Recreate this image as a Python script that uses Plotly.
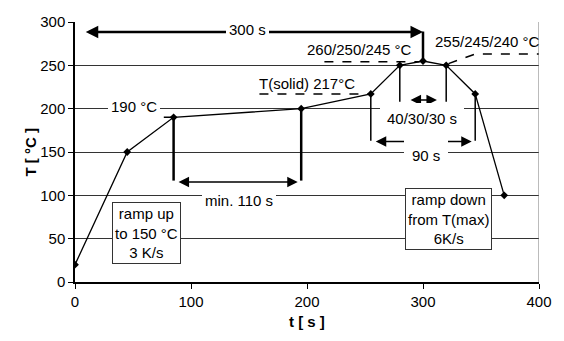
import plotly.graph_objects as go

# Reflow profile points (time in s, temperature in °C)
t_s = [0, 45, 85, 195, 255, 280, 300, 320, 345, 370]
temp_c = [20, 150, 190, 200, 217, 250, 255, 250, 217, 100]

x_ticks = [0, 100, 200, 300, 400]
y_ticks = [0, 50, 100, 150, 200, 250, 300]

FONT = "Liberation Sans, Arial, sans-serif"
FS = 15

fig = go.Figure()


def seg(xs, ys, width=1.5, dash=None):
    fig.add_trace(go.Scatter(x=xs, y=ys, mode="lines",
                             line=dict(color="black", width=width, dash=dash),
                             hoverinfo="skip", showlegend=False))


# helper lines
seg([85, 85], [190, 117], width=2.5)
seg([195, 195], [200, 117], width=2.5)
seg([300, 300], [289, 255], width=2.5)
seg([255, 255], [217, 163])
seg([345, 345], [217, 163])
seg([280, 280], [250, 208])
seg([320, 320], [250, 208])
# dashed reference lines
seg([30, 85], [190, 190], dash="dash")
seg([159, 255], [217, 217], dash="dash")
seg([215, 297], [254, 254], dash="dash")
seg([322, 345, 400], [252, 263, 263], dash="dash")

# profile
fig.add_trace(go.Scatter(x=t_s, y=temp_c, mode="lines+markers",
                         line=dict(color="black", width=1.3),
                         marker=dict(symbol="diamond", size=6, color="black"),
                         showlegend=False))


def arrow(x0, x1, y, width):
    fig.add_annotation(x=x1, y=y, ax=x0, ay=y, xref="x", yref="y",
                       axref="x", ayref="y", text="", showarrow=True,
                       arrowhead=2, startarrowhead=2, arrowside="end+start",
                       arrowsize=1.0 if width > 2 else 1.4,
                       startarrowsize=1.0 if width > 2 else 1.4,
                       arrowwidth=width, arrowcolor="black")


arrow(8, 300, 288.5, 2.5)
arrow(88, 192, 115.5, 1.5)
arrow(258, 342, 162, 1.5)
arrow(288, 312, 210, 1.5)


def label(x, y, text, bg=None, border=False, pad=1, yref="y", yshift=0):
    fig.add_annotation(x=x, y=y, xref="x", yref=yref, yshift=yshift, text=text,
                       showarrow=False,
                       font=dict(family=FONT, size=FS, color="black"),
                       bgcolor=bg if bg else "rgba(0,0,0,0)",
                       bordercolor="#333" if border else "rgba(0,0,0,0)",
                       borderwidth=1 if border else 0, borderpad=pad)


label(149, 1, "300 s", bg="white", pad=3, yref="paper", yshift=4)
label(51, 203, "190 °C", bg="white", pad=3)
label(200, 229, "T(solid) 217°C")
label(245.5, 268, "260/250/245 °C")
label(356, 277, "255/245/240 °C")
label(299, 189, "40/30/30 s", bg="white", pad=7)
label(302.5, 146.5, "90 s", bg="white", pad=8)
label(141, 94.6, "min. 110 s", bg="white", pad=3)
label(61.7, 57, "ramp up<br>to 150 °C<br>3 K/s", bg="white", border=True, pad=2)
label(321.6, 72.5, "ramp down<br>from T(max)<br>6K/s", bg="white", border=True, pad=2)

# axis titles
fig.add_annotation(xref="paper", yref="paper", x=0, y=0.5, xshift=-56,
                   text="<b>T [ °C ]</b>", textangle=-90, showarrow=False,
                   font=dict(family=FONT, size=FS, color="black"))
fig.add_annotation(xref="paper", yref="paper", x=0.5, y=0, yshift=-50,
                   text="<b>t [ s ]</b>", showarrow=False,
                   font=dict(family=FONT, size=FS, color="black"))

# right border
fig.add_shape(type="line", xref="x", yref="y", x0=400, x1=400, y0=0, y1=300,
              line=dict(color="#777", width=1))

fig.update_xaxes(range=[0, 400], tickvals=x_ticks, showgrid=False,
                 showline=True, linecolor="black", linewidth=2,
                 ticks="outside", ticklen=5, tickcolor="black", tickwidth=1,
                 zeroline=False, tickfont=dict(family=FONT, size=FS, color="black"))
fig.update_yaxes(range=[0, 300], tickvals=y_ticks, showgrid=True,
                 gridcolor="#333", gridwidth=1,
                 showline=True, linecolor="black", linewidth=1.5,
                 ticks="outside", ticklen=5, tickcolor="black", tickwidth=1,
                 zeroline=False, tickfont=dict(family=FONT, size=FS, color="black"))

fig.update_layout(width=564, height=341, margin=dict(l=75, r=20, t=22, b=59),
                  plot_bgcolor="white", paper_bgcolor="white",
                  font=dict(family=FONT, size=FS, color="black"))

fig.write_html("out.html", config={"displayModeBar": False},
               post_script="document.body.style.margin='0';")
